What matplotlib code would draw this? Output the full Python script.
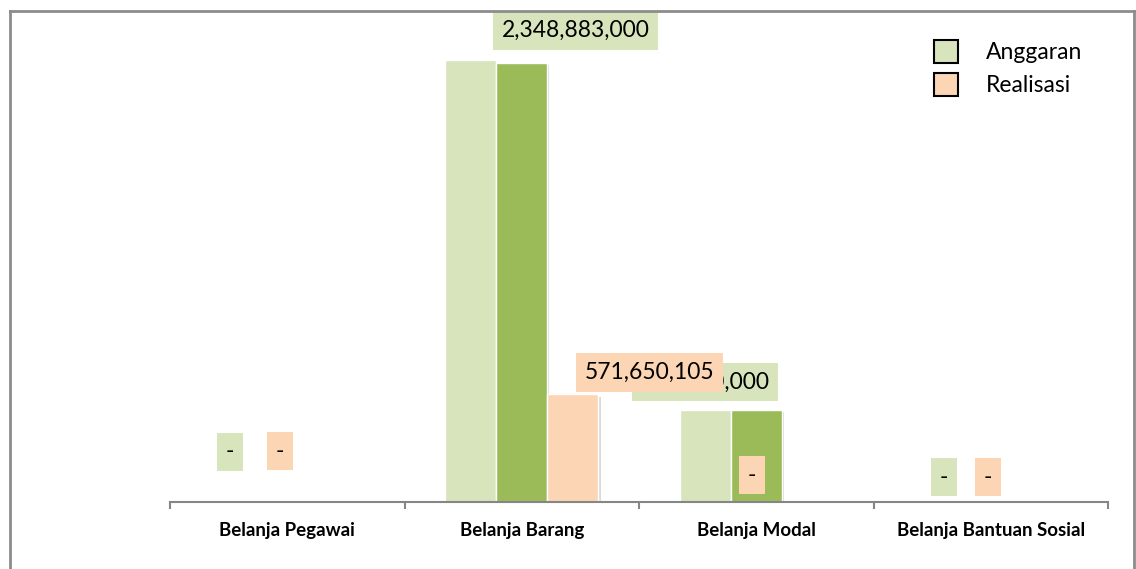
import numpy as np
import matplotlib.pyplot as plt
from matplotlib.patches import Patch
from matplotlib.lines import Line2D
import matplotlib.patheffects as pe

plt.rcParams['font.family'] = ['Lato', 'DejaVu Sans']

kategori = ['Belanja Pegawai', 'Belanja Barang', 'Belanja Modal', 'Belanja Bantuan Sosial']
anggaran = [0, 2348883000, 491000000, 0]
anggaran_2 = [0, 2334000000, 488000000, 0]
realisasi = [0, 571650105, 0, 0]

label_anggaran = ['-', '2,348,883,000', '491,000,000', '-']
label_realisasi = ['-', '571,650,105', '-', '-']

hijau_muda = '#d8e4bc'
hijau = '#9bbb59'
peach = '#fcd5b4'

fig = plt.figure(figsize=(11.36, 5.69), dpi=100)
W, H = 1136, 569
ax = fig.add_axes([170 / W, 1 - 502 / H, 938 / W, (502 - 60) / H])

x = np.arange(len(kategori))
w = 0.218
shadow = [pe.SimplePatchShadow(offset=(1.5, -1.5), shadow_rgbFace='#999999', alpha=0.35), pe.Normal()]
b1 = ax.bar(x - w, anggaran, w, color=hijau_muda, edgecolor='white', linewidth=1)
b2 = ax.bar(x, anggaran_2, w, color=hijau, edgecolor='white', linewidth=1)
b3 = ax.bar(x + w, realisasi, w, color=peach, edgecolor='white', linewidth=1)
for bars in (b1, b2, b3):
    for r in bars:
        r.set_path_effects(shadow)

ax.set_xlim(-0.5, len(kategori) - 0.5)
ax.set_ylim(0, max(anggaran))
for s in ['top', 'right', 'left']:
    ax.spines[s].set_visible(False)
ax.spines['bottom'].set_color('#868686')
ax.spines['bottom'].set_linewidth(1.5)
ax.set_yticks([])
ax.set_xticks(np.arange(len(kategori) + 1) - 0.5)
ax.set_xticklabels([])
ax.tick_params(axis='x', length=5, width=1.5, color='#868686', direction='out')
for i, k in enumerate(kategori):
    ax.text(i, -0.045, k, transform=ax.get_xaxis_transform(), ha='center', va='top',
            fontsize=13.5, fontweight='bold')

# posisi label (offset piksel dari puncak batang tengah); label peach menutupi label hijau seperti aslinya
off_anggaran = [(-57, 50), (54, 32), (-51, 28), (-47, 25)]
off_realisasi = [(-7, 51), (128, 22), (-4, 27), (-3, 25)]
fs = 16.5
for i in range(len(kategori)):
    ax.annotate(label_anggaran[i], (x[i], anggaran_2[i]), xytext=off_anggaran[i],
                textcoords='offset pixels', ha='center', va='center', fontsize=fs,
                bbox=dict(boxstyle='square,pad=0.38', fc=hijau_muda, ec='none'),
                annotation_clip=False, zorder=5)
    ax.annotate(label_realisasi[i], (x[i], realisasi[i]), xytext=off_realisasi[i],
                textcoords='offset pixels', ha='center', va='center', fontsize=fs,
                bbox=dict(boxstyle='square,pad=0.38', fc=peach, ec='none'),
                annotation_clip=False, zorder=6)

handles = [Patch(facecolor=hijau_muda, edgecolor='black', linewidth=1.5),
           Patch(facecolor=peach, edgecolor='black', linewidth=1.5)]
fig.legend(handles, ['Anggaran', 'Realisasi'], loc='upper left', bbox_to_anchor=(916 / W, 1 - 22 / H),
           frameon=False, fontsize=16.5, handlelength=1.05, handleheight=1.15,
           handletextpad=1.2, labelspacing=0.42, borderpad=0.3)

# bingkai
c = '#8c8c8c'
fig.add_artist(Line2D([10 / W, 10 / W], [0, 1 - 11 / H], color=c, lw=2))
fig.add_artist(Line2D([10 / W, 1134 / W], [1 - 11 / H, 1 - 11 / H], color=c, lw=2))
fig.add_artist(Line2D([1134 / W, 1134 / W], [0, 1 - 11 / H], color=c, lw=2))

fig.savefig('out.png', dpi=100)
